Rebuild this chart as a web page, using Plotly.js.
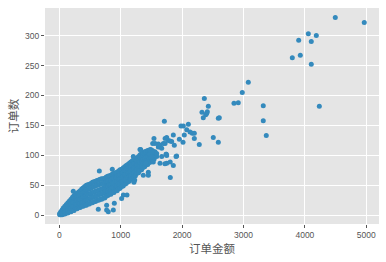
<!DOCTYPE html>
<html>
<head>
<meta charset="utf-8">
<script src="https://cdn.plot.ly/plotly-3.0.1.min.js"></script>
<style>html,body{margin:0;padding:0;background:#fff;}#chart{width:386px;height:262px;}</style>
</head>
<body>
<div id="chart"></div>
<script>
// Dense core of the cloud: order amount columns and the order counts read in each column
const blobAmount = [8,25,45,65,90,115,140,165,190,215,240,265,290,315,340,365,390,415,440,465,490,515,540,565,590,615,640,665,690,715,740,765,790,815,840,865,890,915,940,965,990,1015,1040,1065,1090,1115,1140,1165,1190,1215,1240,1265,1290,1315,1340,1365,1390,1415,1440,1465,1490,1515,1545];
const blobCounts = [
  [1,3,2],[1,4,6,2],[1,5,9,3],[2,6,9,12],[2,6,11,15],[4,9,14,18],[4,9,15,21],[6,12,18,24],
  [6,12,19,27],[8,15,22,30],[8,15,22,29,33],[11,18,25,32,35],[11,18,25,32,37],[13,20,27,34,39],
  [13,20,27,34,41],[15,22,29,36,44],[15,22,30,38,46],[17,24,32,40,48],[17,25,33,41,50],
  [19,27,35,43,51],[19,27,35,44,52],[21,29,37,45,53],[21,30,38,47,55],[23,31,39,48,56],
  [23,32,40,49,57],[25,33,41,50,58],[25,34,42,51,59],[27,35,43,52,60],[27,36,44,53,61],
  [29,37,45,53,61],[29,38,46,54,62],[32,40,48,56,64],[33,41,49,57,65],[35,43,51,59,66],
  [35,43,51,59,67],[38,46,54,62,69],[38,46,54,62,70],[41,49,57,64,71],[41,49,57,65,72],
  [44,52,60,67,74],[45,53,61,69,76],[48,56,64,71,77],[49,57,65,72,79],[52,60,68,75,81],
  [53,61,69,76,83],[56,64,71,78,85],[57,65,72,80,87],[60,67,74,82,89],[62,69,77,84,91],
  [65,72,79,86,93],[66,73,80,87,94],[70,77,84,91,96],[71,78,85,92,98],[75,82,89,96,101],
  [76,83,90,97,103],[80,87,94,100,104],[81,88,95,102,106],[84,91,98,104,107],[85,92,99,105,108],
  [88,95,102,109],[89,96,103,110],[92,100,108],[94,102]
];
// Scattered points outside the core
const sparseAmount = [228,652,863,1205,635,771,798,880,896,1015,1043,1102,1228,1216,1450,1314,1325,1408,1478,1505,1531,1559,1586,1613,1640,1542,1521,1613,1640,1668,1695,1723,1738,1749,1749,1711,1723,1749,1776,1803,1830,1857,1873,1901,1911,1806,1857,1808,1720,1743,1955,1982,2020,2015,2036,2075,2102,2129,2166,2199,2199,2280,2324,2345,2362,2384,2400,2411,2427,2508,2590,2590,2606,2845,2915,2980,3078,3322,3322,3371,3795,3899,3925,4056,4104,4104,4186,4235,4495,4967,1368,1450,1640,1668,1477,1531,1586,1559,771];
const sparseCount = [40,74,77,98,10,17,6,9,20,28,34,34,59,55,72,110,110,87,103,98,89,106,98,114,117,128,120,119,114,112,120,128,102,130,100,157,120,87,125,124,123,134,117,98,99,89,83,63,86,102,127,149,149,122,134,143,152,139,137,137,128,118,172,163,195,168,170,173,182,130,162,122,163,187,188,205,222,183,158,133,263,292,267,303,290,252,300,182,330,322,67,67,87,98,109,106,103,120,9];

const xLabel = '订单金额';
const yLabel = '订单数';

const xs = [], ys = [];
blobAmount.forEach((a, i) => blobCounts[i].forEach(c => { xs.push(a); ys.push(c); }));
sparseAmount.forEach((a, i) => { xs.push(a); ys.push(sparseCount[i]); });

const tickFont = {family: 'Liberation Sans, Arial, sans-serif', size: 8.5, color: '#555555'};
const titleFont = {family: 'Noto Sans CJK SC, sans-serif', size: 11.5, color: '#555555'};

Plotly.newPlot('chart', [{
  type: 'scatter', mode: 'markers', x: xs, y: ys,
  marker: {color: '#348ABD', size: 5, line: {width: 0}},
  hoverinfo: 'skip'
}], {
  width: 386, height: 262,
  margin: {l: 45, r: 7, t: 8, b: 38},
  paper_bgcolor: '#ffffff', plot_bgcolor: '#E5E5E5',
  showlegend: false,
  xaxis: {
    range: [-233, 5207], tickvals: [0,1000,2000,3000,4000,5000], ticktext: ['0','1000','2000','3000','4000','5000'],
    showgrid: true, gridcolor: '#ffffff', gridwidth: 1, zeroline: false, showline: false,
    ticks: 'outside', ticklen: 3, tickcolor: '#555555', tickwidth: 1, tickfont: tickFont,
    title: {text: xLabel, font: titleFont, standoff: 3}, automargin: false
  },
  yaxis: {
    range: [-14.5, 346], tickvals: [0,50,100,150,200,250,300], ticktext: ['0','50','100','150','200','250','300'],
    showgrid: true, gridcolor: '#ffffff', gridwidth: 1, zeroline: false, showline: false,
    ticks: 'outside', ticklen: 3, tickcolor: '#555555', tickwidth: 1, tickfont: tickFont,
    title: {text: yLabel, font: titleFont, standoff: 4}, automargin: false
  }
}, {displayModeBar: false, staticPlot: true});
</script>
</body>
</html>
